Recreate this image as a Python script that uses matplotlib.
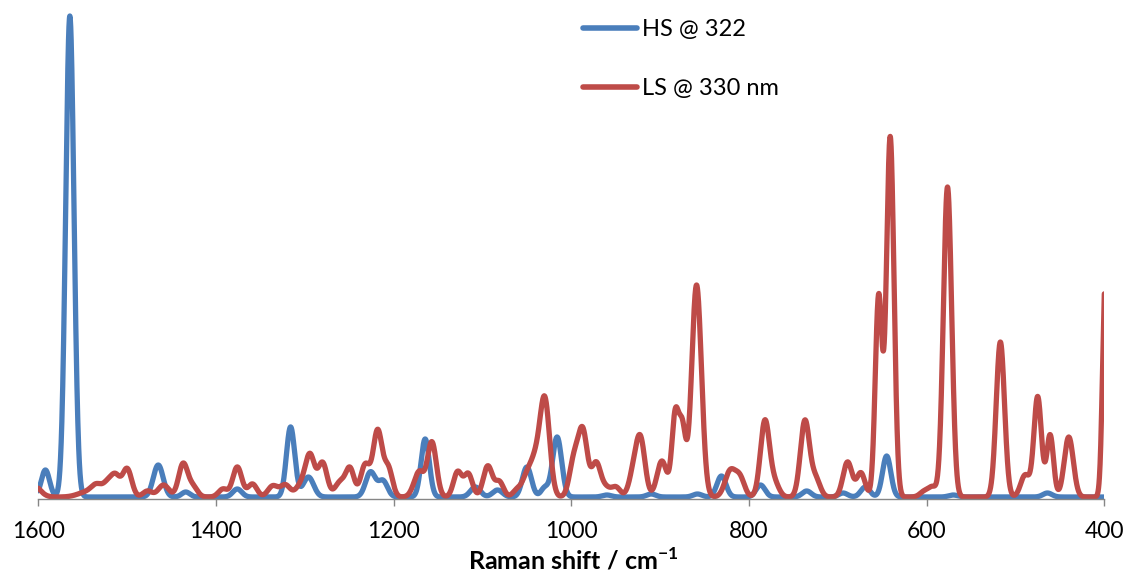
import numpy as np
import matplotlib
matplotlib.use("Agg")
import matplotlib.pyplot as plt

# ---- data (peak positions cm-1, heights in relative units, FWHM cm-1) ----
hs_label = "HS @ 322"
hs_center = [1592, 1564.5, 1465, 1434, 1376, 1316, 1296, 1226, 1212, 1164.5,
             1108, 1083, 1050, 1030, 1016, 960, 910, 858, 831, 787, 735,
             694, 669, 645, 570, 464]
hs_height = [27, 481, 32, 5, 8, 70, 20, 25, 16, 58,
             10, 7, 30, 9, 60, 2, 3, 3, 21, 12, 6,
             4, 10, 41, 2, 4]
hs_fwhm = [11, 11, 13, 11, 12, 11, 14, 13, 12, 11,
           13, 13, 12, 10, 12, 12, 12, 12, 12, 12, 12,
           12, 12, 11, 12, 12]

ls_label = "LS @ 330 nm"
ls_center = [1606, 1545, 1534, 1522, 1513, 1500, 1477, 1459, 1437, 1426,
             1392, 1376, 1359, 1336, 1322, 1304, 1294, 1280, 1260, 1249,
             1232, 1218, 1206, 1175, 1170, 1157, 1128, 1116, 1094, 1081,
             1061, 1050, 1041, 1030, 997, 987, 972, 961, 950, 930,
             922, 898, 883, 875, 859, 821, 810, 782, 771, 737,
             725, 689, 674, 654, 641, 602, 593, 576.5, 517, 489,
             475, 461, 440, 399]
ls_height = [12, 5, 10, 12, 20, 28, 6, 12, 33, 10,
             8, 30, 13, 11, 12, 12, 40, 34, 15, 27,
             32, 66, 28, 10, 18, 55, 25, 23, 31, 15,
             7, 20, 30, 98, 36, 64, 34, 8, 10, 22,
             55, 36, 80, 66, 212, 26, 18, 76, 13, 76,
             18, 35, 24, 200, 360, 6, 9, 310, 155, 22,
             100, 62, 60, 215]
ls_fwhm = [18, 24, 14, 12, 12, 12, 12, 14, 12, 12,
           12, 12, 12, 13, 13, 14, 12, 12, 14, 11,
           12, 12, 11, 12, 11, 12, 11, 11, 12, 11,
           11, 12, 12, 13, 12, 12, 12, 11, 12, 12,
           12, 13, 9, 9, 13, 14, 12, 12, 12, 12,
           12, 12, 11, 9, 10, 12, 10, 11, 11, 12,
           10, 9, 12, 7]

x_ticks = [1600, 1400, 1200, 1000, 800, 600, 400]
x_label = r"Raman shift / cm$^{\mathbf{-1}}$"

# ---- build spectra from peak lists ----
wn = np.arange(1600, 399.75, -0.25)


def spectrum(centers, heights, fwhms):
    y = np.zeros_like(wn)
    for c, h, w in zip(centers, heights, fwhms):
        s = w / 2.3548
        y += h * np.exp(-0.5 * ((wn - c) / s) ** 2)
    return y


hs = spectrum(hs_center, hs_height, hs_fwhm)
ls = spectrum(ls_center, ls_height, ls_fwhm)

plt.rcParams["font.family"] = ["Lato", "DejaVu Sans"]
plt.rcParams["mathtext.fontset"] = "custom"
plt.rcParams["mathtext.rm"] = "Lato"
plt.rcParams["mathtext.bf"] = "Lato:bold"

W, H = 1127, 572
fig = plt.figure(figsize=(W / 100, H / 100), dpi=100)
left, right, bottom, top = 38.3, 1104.3, 499, 9
ax = fig.add_axes([left / W, (H - bottom) / H, (right - left) / W, (bottom - top) / H])

blue = "#4A7EBB"
red = "#BE4B48"
ax.plot(wn, hs, color=blue, lw=3.8, label=hs_label, solid_capstyle="round", solid_joinstyle="round")
ax.plot(wn, ls, color=red, lw=3.8, label=ls_label, solid_capstyle="round", solid_joinstyle="round")

ax.set_xlim(1600, 400)
ax.set_ylim(-2, 488)
ax.set_xticks(x_ticks)
ax.set_xticklabels([str(t) for t in x_ticks])
ax.set_yticks([])
for s in ["top", "right", "left"]:
    ax.spines[s].set_visible(False)
ax.spines["bottom"].set_color("#868686")
ax.spines["bottom"].set_linewidth(1.0)
ax.tick_params(axis="x", direction="out", length=5, width=1, color="#868686",
               labelsize=16.5, pad=11, labelcolor="black")
ax.set_xlabel("")
fig.text((left + right) / 2 / W + 0.002, 1 - 569 / H, x_label, fontsize=18, fontweight="bold",
         ha="center", va="baseline")

leg = ax.legend(loc="upper left", bbox_to_anchor=(583 / W, 1 - 19 / H),
                bbox_transform=fig.transFigure, frameon=False, fontsize=17,
                handlelength=2.3, handletextpad=0.2, labelspacing=1.6,
                borderpad=0, borderaxespad=0)
for line in leg.get_lines():
    line.set_linewidth(4)

fig.savefig("out.png", dpi=100)
